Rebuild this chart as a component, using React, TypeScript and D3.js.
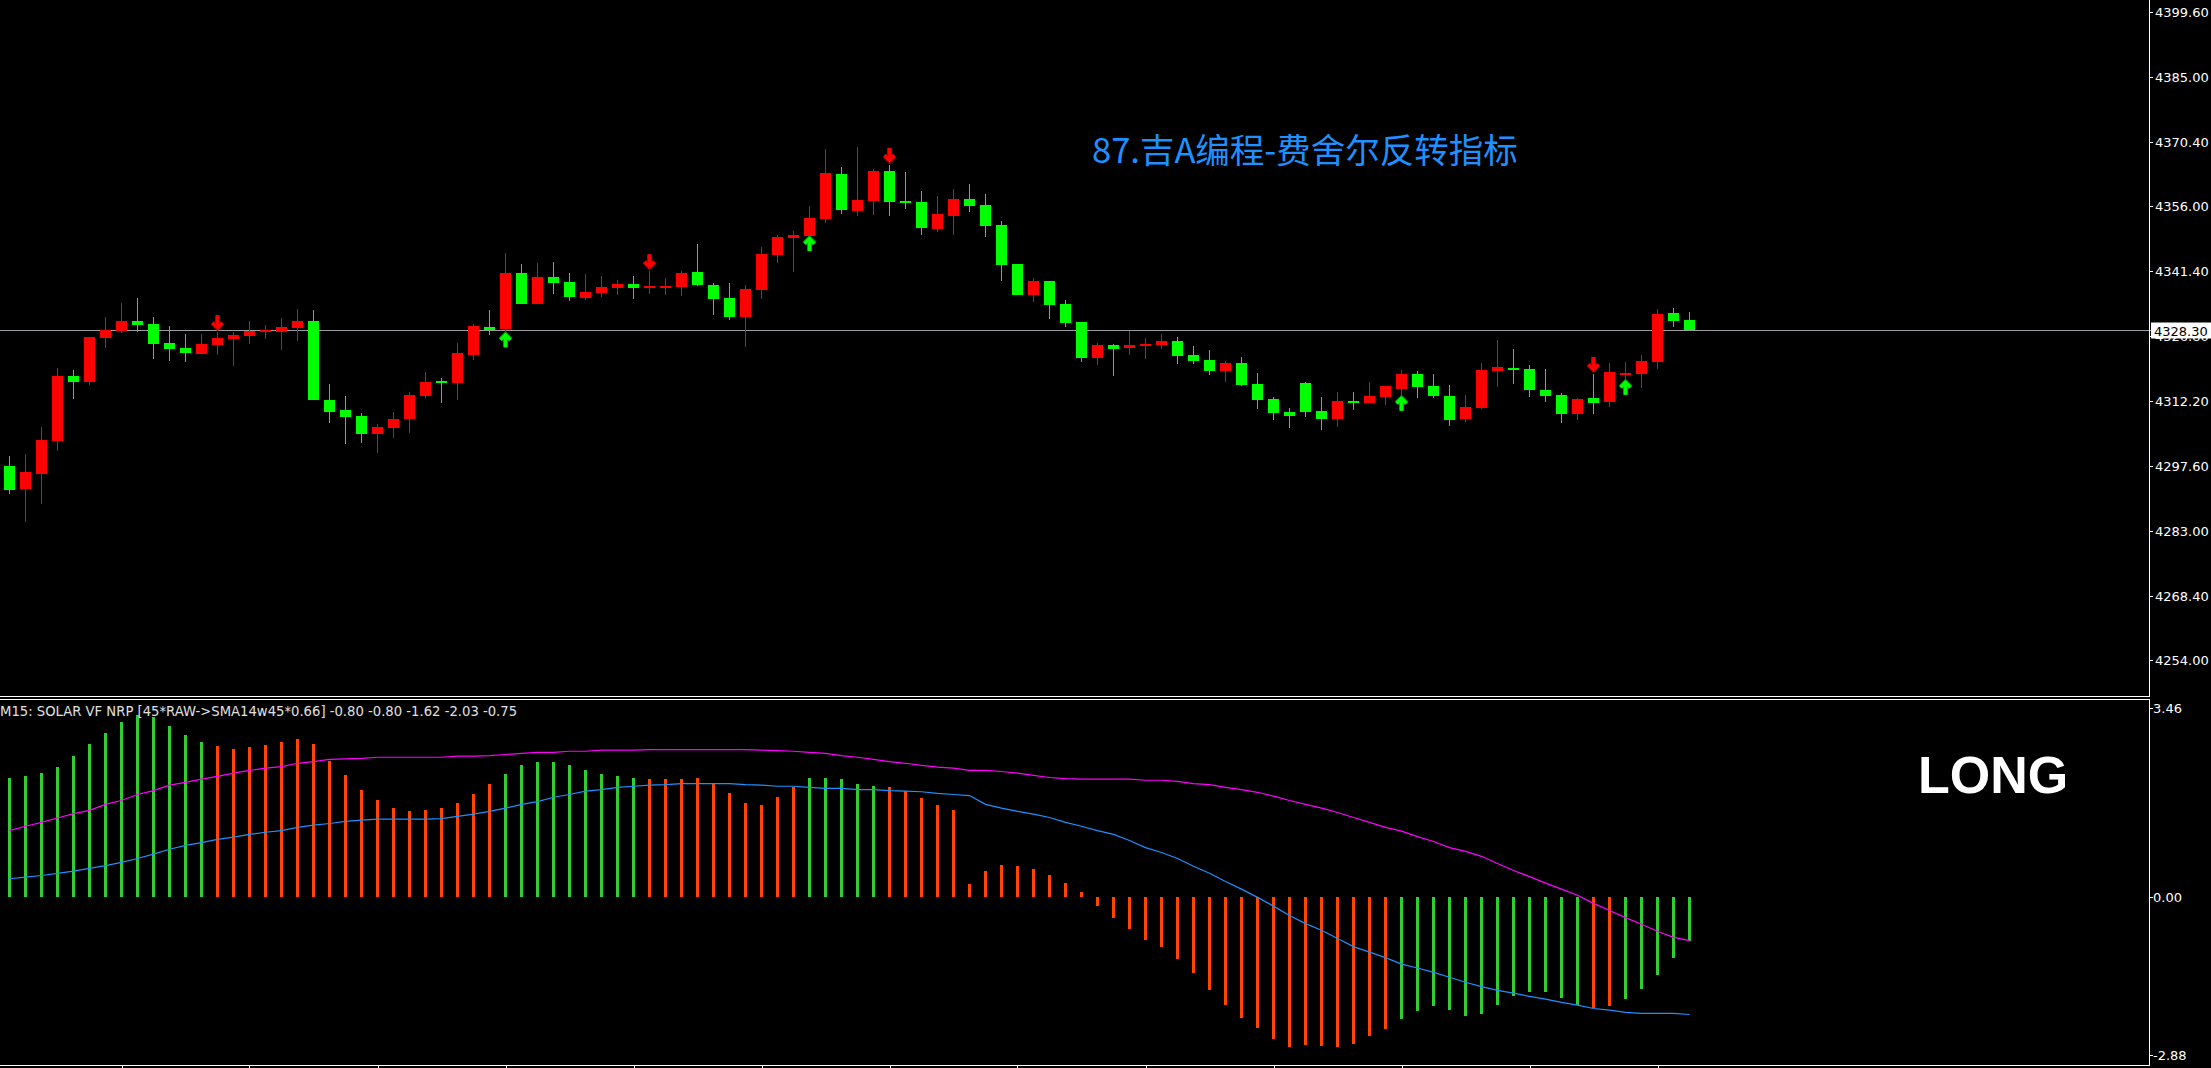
import React from "react";
import * as d3 from "d3";

// ---------- Candles (M15) ----------
const OPEN = [
  4297.6, 4292.5, 4295.8, 4303.2, 4317.9, 4316.5, 4326.4, 4328.0, 4330.2, 4329.5,
  4325.3, 4324.1, 4322.8, 4324.8, 4326.2, 4326.8, 4327.7, 4327.7, 4328.6, 4330.2,
  4312.5, 4310.2, 4308.9, 4304.8, 4306.2, 4308.2, 4313.4, 4316.7, 4316.3, 4322.6,
  4328.9, 4328.4, 4341.0, 4334.0, 4340.1, 4339.0, 4335.4, 4336.5, 4337.6, 4338.5,
  4337.6, 4337.9, 4337.9, 4341.2, 4338.3, 4335.4, 4331.1, 4337.2, 4345.0, 4348.9,
  4349.3, 4353.1, 4363.2, 4354.9, 4357.2, 4363.9, 4357.2, 4356.9, 4350.9, 4353.8,
  4357.6, 4356.3, 4351.8, 4343.0, 4336.0, 4339.2, 4334.0, 4330.0, 4321.9, 4324.8,
  4324.1, 4324.6, 4324.8, 4325.7, 4322.6, 4321.4, 4319.0, 4320.8, 4316.1, 4312.7,
  4309.8, 4316.3, 4310.0, 4308.2, 4312.2, 4311.8, 4313.1, 4314.9, 4318.3, 4315.6,
  4313.4, 4308.2, 4310.7, 4319.0, 4319.6, 4319.4, 4314.7, 4313.6, 4309.3, 4312.9,
  4312.0, 4318.3, 4318.3, 4321.0, 4332.0, 4330.4,
];
const HIGH = [
  4299.9, 4300.3, 4306.4, 4319.6, 4319.2, 4326.6, 4331.1, 4334.3, 4335.4, 4331.1,
  4329.1, 4327.3, 4327.3, 4327.7, 4327.7, 4330.2, 4329.3, 4330.9, 4332.9, 4332.7,
  4316.1, 4313.4, 4309.5, 4307.1, 4309.8, 4314.3, 4318.7, 4317.4, 4325.3, 4329.5,
  4332.7, 4345.5, 4343.0, 4343.2, 4343.5, 4341.0, 4340.8, 4340.3, 4339.4, 4340.3,
  4341.4, 4339.8, 4341.4, 4347.5, 4338.8, 4338.8, 4338.3, 4346.8, 4349.5, 4350.4,
  4356.1, 4368.9, 4364.8, 4369.3, 4364.4, 4365.3, 4363.7, 4359.4, 4358.3, 4359.9,
  4361.0, 4358.7, 4352.7, 4343.0, 4339.8, 4339.2, 4334.9, 4330.0, 4325.3, 4325.0,
  4328.0, 4326.4, 4327.3, 4326.6, 4324.6, 4323.7, 4321.2, 4322.1, 4318.5, 4313.1,
  4310.7, 4316.5, 4313.1, 4314.3, 4314.3, 4316.5, 4315.6, 4319.2, 4319.0, 4318.3,
  4315.8, 4313.6, 4320.8, 4325.9, 4323.9, 4320.3, 4319.4, 4314.0, 4312.9, 4318.3,
  4320.8, 4321.0, 4322.6, 4332.9, 4333.1, 4332.2,
];
const LOW = [
  4291.3, 4285.1, 4289.1, 4301.0, 4312.7, 4315.8, 4324.1, 4327.5, 4327.7, 4321.7,
  4321.2, 4321.0, 4322.8, 4322.6, 4320.1, 4325.0, 4326.2, 4323.7, 4325.7, 4312.5,
  4307.3, 4302.6, 4302.8, 4300.5, 4303.9, 4305.0, 4312.9, 4311.8, 4312.5, 4321.4,
  4327.1, 4327.7, 4334.0, 4334.0, 4336.3, 4334.7, 4334.9, 4335.6, 4336.0, 4335.2,
  4336.3, 4336.0, 4335.8, 4338.1, 4331.6, 4330.4, 4324.4, 4335.2, 4343.2, 4341.2,
  4349.3, 4352.2, 4354.3, 4353.8, 4354.0, 4353.8, 4355.4, 4349.5, 4350.2, 4349.5,
  4354.7, 4349.1, 4339.2, 4336.0, 4334.5, 4330.7, 4328.9, 4321.0, 4320.3, 4317.9,
  4322.6, 4321.7, 4323.9, 4320.5, 4320.5, 4318.1, 4316.5, 4315.6, 4310.4, 4307.9,
  4306.2, 4308.6, 4305.7, 4306.4, 4310.2, 4311.8, 4311.3, 4313.4, 4312.9, 4312.9,
  4306.6, 4307.5, 4310.4, 4315.4, 4316.1, 4313.1, 4312.0, 4307.3, 4307.9, 4309.3,
  4310.9, 4317.0, 4315.2, 4319.4, 4328.9, 4328.0,
];
const CLOSE = [
  4292.2, 4296.3, 4303.5, 4317.9, 4316.5, 4326.6, 4328.3, 4330.2, 4329.3, 4325.0,
  4323.9, 4323.0, 4325.0, 4326.4, 4327.1, 4328.0, 4328.3, 4328.9, 4330.2, 4312.5,
  4309.8, 4308.6, 4304.8, 4306.4, 4308.2, 4313.6, 4316.5, 4316.3, 4323.0, 4329.1,
  4328.3, 4341.0, 4334.0, 4340.1, 4338.8, 4335.6, 4336.7, 4337.9, 4338.5, 4337.6,
  4338.1, 4338.1, 4341.0, 4338.3, 4335.2, 4331.1, 4337.4, 4345.3, 4349.1, 4349.5,
  4353.4, 4363.5, 4355.2, 4357.4, 4363.9, 4356.9, 4356.7, 4351.1, 4354.3, 4357.6,
  4356.0, 4351.6, 4342.8, 4336.0, 4339.2, 4333.8, 4329.8, 4321.9, 4324.8, 4323.9,
  4324.8, 4325.0, 4325.7, 4322.3, 4321.2, 4319.0, 4320.8, 4315.8, 4312.5, 4309.5,
  4308.9, 4309.8, 4308.2, 4312.2, 4311.8, 4313.4, 4315.6, 4318.3, 4315.4, 4313.4,
  4307.9, 4310.9, 4319.2, 4319.9, 4319.2, 4314.7, 4313.4, 4309.3, 4312.7, 4311.8,
  4318.7, 4318.5, 4321.2, 4331.8, 4330.2, 4328.3,
];

// Fisher reversal signals (bar indices)
const DOWN_SIGNALS = [13, 40, 55, 99];
const UP_SIGNALS = [31, 50, 87, 101];

// ---------- Indicator (SOLAR VF NRP) ----------
const HIST = [
  2.19, 2.21, 2.28, 2.39, 2.59, 2.80, 3.01, 3.20, 3.34, 3.29,
  3.14, 2.96, 2.83, 2.76, 2.72, 2.74, 2.78, 2.83, 2.90, 2.81,
  2.50, 2.23, 1.97, 1.77, 1.64, 1.57, 1.59, 1.64, 1.72, 1.88,
  2.08, 2.25, 2.41, 2.47, 2.48, 2.41, 2.32, 2.25, 2.21, 2.19,
  2.17, 2.16, 2.16, 2.19, 2.08, 1.90, 1.72, 1.68, 1.83, 2.01,
  2.19, 2.19, 2.16, 2.08, 2.03, 2.01, 1.95, 1.81, 1.68, 1.59,
  0.24, 0.48, 0.60, 0.58, 0.51, 0.40, 0.27, 0.09, -0.15, -0.37,
  -0.58, -0.77, -0.91, -1.13, -1.39, -1.70, -1.97, -2.21, -2.39, -2.58,
  -2.74, -2.70, -2.72, -2.74, -2.67, -2.54, -2.41, -2.23, -2.08, -1.99,
  -2.05, -2.16, -2.14, -1.97, -1.81, -1.72, -1.72, -1.83, -1.97, -2.03,
  -1.99, -1.85, -1.68, -1.41, -1.11, -0.80,
];
// 1 = green state, 0 = orange state
const HIST_STATE = [
  1, 1, 1, 1, 1, 1, 1, 1, 1, 1, 1, 1, 1,
  0, 0, 0, 0, 0, 0, 0, 0, 0, 0, 0, 0, 0, 0, 0, 0, 0, 0,
  1, 1, 1, 1, 1, 1, 1, 1, 1,
  0, 0, 0, 0, 0, 0, 0, 0, 0, 0,
  1, 1, 1, 1, 1,
  0, 0, 0, 0, 0, 0, 0, 0, 0, 0, 0, 0, 0, 0, 0, 0, 0, 0, 0, 0, 0, 0, 0, 0, 0, 0, 0, 0, 0, 0, 0, 0,
  1, 1, 1, 1, 1, 1, 1, 1, 1, 1, 1, 1,
  0, 0,
  1, 1, 1, 1, 1,
];
const SIGNAL_LINE = [
  1.22, 1.30, 1.37, 1.45, 1.53, 1.59, 1.70, 1.77, 1.88, 1.95,
  2.05, 2.10, 2.16, 2.21, 2.27, 2.32, 2.36, 2.39, 2.45, 2.48,
  2.52, 2.53, 2.54, 2.56, 2.56, 2.56, 2.56, 2.56, 2.58, 2.58,
  2.59, 2.61, 2.63, 2.65, 2.65, 2.67, 2.67, 2.69, 2.69, 2.69,
  2.70, 2.70, 2.70, 2.70, 2.70, 2.70, 2.70, 2.69, 2.68, 2.67,
  2.65, 2.63, 2.59, 2.56, 2.52, 2.48, 2.45, 2.41, 2.38, 2.36,
  2.32, 2.32, 2.30, 2.27, 2.23, 2.19, 2.17, 2.16, 2.16, 2.16,
  2.16, 2.14, 2.14, 2.12, 2.08, 2.06, 2.01, 1.97, 1.92, 1.85,
  1.77, 1.70, 1.63, 1.55, 1.46, 1.37, 1.28, 1.21, 1.11, 1.02,
  0.91, 0.84, 0.75, 0.62, 0.49, 0.38, 0.26, 0.15, 0.04, -0.11,
  -0.24, -0.37, -0.49, -0.62, -0.73, -0.79,
];
const SMA_LINE = [
  0.34, 0.37, 0.40, 0.44, 0.48, 0.53, 0.58, 0.64, 0.71, 0.79,
  0.88, 0.95, 1.00, 1.06, 1.10, 1.15, 1.19, 1.22, 1.28, 1.32,
  1.35, 1.39, 1.41, 1.43, 1.43, 1.43, 1.43, 1.44, 1.48, 1.52,
  1.57, 1.63, 1.70, 1.75, 1.83, 1.88, 1.94, 1.97, 2.01, 2.03,
  2.05, 2.06, 2.08, 2.08, 2.08, 2.08, 2.06, 2.05, 2.03, 2.03,
  2.01, 1.99, 1.99, 1.97, 1.97, 1.95, 1.94, 1.93, 1.90, 1.88,
  1.86, 1.70, 1.63, 1.57, 1.52, 1.46, 1.37, 1.30, 1.22, 1.15,
  1.04, 0.91, 0.82, 0.71, 0.57, 0.44, 0.29, 0.15, 0.00, -0.16,
  -0.33, -0.48, -0.60, -0.75, -0.90, -1.00, -1.10, -1.22, -1.29, -1.37,
  -1.46, -1.55, -1.63, -1.70, -1.75, -1.81, -1.86, -1.92, -1.97, -2.03,
  -2.06, -2.10, -2.12, -2.12, -2.12, -2.14,
];

// ---------- Axis labels ----------
const PRICE_TICKS = [4399.6, 4385.0, 4370.4, 4356.0, 4341.4, 4326.8, 4312.2, 4297.6, 4283.0, 4268.4, 4254.0];
const IND_TICKS = [3.46, 0.0, -2.88];
const TIME_TICK_BARS = [7, 15, 23, 31, 39, 47, 55, 63, 71, 79, 87, 95, 103];
const LEGEND_PREFIX = "M15: SOLAR VF NRP [45*RAW->SMA14w45*0.66]";
const LEGEND_VALUES = [-0.8, -0.8, -1.62, -2.03, -0.75];
const TITLE = "87.吉A编程-费舍尔反转指标";
const STATUS = "LONG";

const W = 2211;
const H = 1068;
const AXIS_X = 2149;

const RED = "#FF0000";
const LIME = "#00FF00";
const HIST_GREEN = "#32CD32";
const HIST_ORANGE = "#FF4500";

export default function App() {
  const n = OPEN.length;
  const x = d3.scaleLinear().domain([0, n - 1]).range([9.5, 9.5 + 16 * (n - 1)]);
  const yP = d3.scaleLinear().domain([4254.0, 4399.6]).range([660.1, 12.3]);
  const yI = d3.scaleLinear().domain([-2.88, 3.46]).range([1055, 708]);

  const lineGen = d3
    .line<number>()
    .x((_, i) => x(i))
    .y((d) => yI(d));

  const lastClose = CLOSE[n - 1];
  const lastY = Math.round(yP(lastClose)) + 0.5;

  const axisFont = "'DejaVu Sans', Verdana, sans-serif";

  const downArrow = (cx: number, tip: number) =>
    `M${cx},${tip - 14} L${cx},${tip - 2} M${cx - 5},${tip - 6.5} L${cx},${tip - 1.5} L${cx + 5},${tip - 6.5}`;
  const upArrow = (cx: number, tip: number) =>
    `M${cx},${tip + 14} L${cx},${tip + 2} M${cx - 5},${tip + 6.5} L${cx},${tip + 1.5} L${cx + 5},${tip + 6.5}`;

  return (
    <svg
      width={W}
      height={H}
      style={{ position: "fixed", left: 0, top: 0, display: "block", background: "#000" }}
    >
      <rect x={0} y={0} width={W} height={H} fill="#000" />

      {/* current price line */}
      <line x1={0} x2={AXIS_X + 2} y1={lastY} y2={lastY} stroke="#9a9ea4" strokeWidth={1} shapeRendering="crispEdges" />

      {/* candles */}
      <g shapeRendering="crispEdges">
        {OPEN.map((o, i) => {
          const c = CLOSE[i];
          const up = c >= o;
          const col = up ? RED : LIME;
          const cx = x(i);
          const top = yP(Math.max(o, c));
          const bot = yP(Math.min(o, c));
          return (
            <g key={i}>
              <line x1={cx} x2={cx} y1={yP(HIGH[i])} y2={yP(LOW[i])} stroke={col} strokeWidth={1} />
              <rect x={cx - 5.5} y={top} width={11} height={Math.max(2, bot - top)} fill={col} />
            </g>
          );
        })}
      </g>

      {/* signal arrows */}
      {DOWN_SIGNALS.map((i) => (
        <g key={"d" + i}>
          <path d={downArrow(x(i), yP(HIGH[i]) - 3)} stroke="#B00000" strokeWidth={5} fill="none" />
          <path d={downArrow(x(i), yP(HIGH[i]) - 3)} stroke={RED} strokeWidth={3} fill="none" />
        </g>
      ))}
      {UP_SIGNALS.map((i) => (
        <g key={"u" + i}>
          <path d={upArrow(x(i), yP(LOW[i]) + 1)} stroke="#00A000" strokeWidth={5} fill="none" />
          <path d={upArrow(x(i), yP(LOW[i]) + 1)} stroke={LIME} strokeWidth={3} fill="none" />
        </g>
      ))}

      {/* title */}
      <text x={1092} y={163} fill="#1E90FF" fontSize={34.5} fontFamily="'Noto Sans CJK SC', 'Noto Sans', sans-serif">
        {TITLE}
      </text>

      {/* price axis */}
      <line x1={AXIS_X + 0.5} x2={AXIS_X + 0.5} y1={0} y2={696} stroke="#fff" strokeWidth={1} />
      {PRICE_TICKS.map((p) => (
        <g key={p}>
          <line x1={AXIS_X} x2={AXIS_X + 4} y1={Math.round(yP(p)) + 0.5} y2={Math.round(yP(p)) + 0.5} stroke="#fff" />
          <text x={2155} y={yP(p) + 5} fill="#fff" fontSize={13} fontFamily={axisFont}>
            {p.toFixed(2)}
          </text>
        </g>
      ))}
      <rect x={2151} y={lastY - 8} width={60} height={16} fill="#fff" />
      <text x={2154} y={lastY + 5} fill="#000" fontSize={13} fontFamily={axisFont}>
        {lastClose.toFixed(2)}
      </text>

      {/* panel separator */}
      <line x1={0} x2={AXIS_X + 1} y1={696.5} y2={696.5} stroke="#fff" />
      <line x1={0} x2={AXIS_X + 1} y1={699.5} y2={699.5} stroke="#fff" />

      {/* histogram */}
      <g shapeRendering="crispEdges">
        {HIST.map((v, i) => (
          <line
            key={i}
            x1={x(i)}
            x2={x(i)}
            y1={yI(0)}
            y2={yI(v)}
            stroke={HIST_STATE[i] ? HIST_GREEN : HIST_ORANGE}
            strokeWidth={3}
          />
        ))}
      </g>

      {/* lines */}
      <path d={lineGen(SIGNAL_LINE) || ""} fill="none" stroke="#FF00FF" strokeWidth={1.2} />
      <path d={lineGen(SMA_LINE) || ""} fill="none" stroke="#1E90FF" strokeWidth={1.2} />

      {/* indicator legend */}
      <text x={0} y={716} fill="#E0E0E0" fontSize={13.2} fontFamily={axisFont}>
        {LEGEND_PREFIX + " " + LEGEND_VALUES.map((v) => v.toFixed(2)).join(" ")}
      </text>

      <text x={1918} y={793} fill="#fff" fontSize={52} fontWeight="bold" fontFamily="'Liberation Sans', Arial, sans-serif">
        {STATUS}
      </text>

      {/* indicator axis */}
      <line x1={AXIS_X + 0.5} x2={AXIS_X + 0.5} y1={699} y2={1065} stroke="#fff" />
      {IND_TICKS.map((v) => (
        <g key={v}>
          <line x1={AXIS_X} x2={AXIS_X + 4} y1={Math.round(yI(v)) + 0.5} y2={Math.round(yI(v)) + 0.5} stroke="#fff" />
          <text x={2153} y={yI(v) + 5} fill="#fff" fontSize={13} fontFamily={axisFont}>
            {v.toFixed(2)}
          </text>
        </g>
      ))}

      {/* bottom border & time ticks */}
      <line x1={0} x2={AXIS_X + 1} y1={1065.5} y2={1065.5} stroke="#fff" />
      {TIME_TICK_BARS.map((b) => (
        <line key={b} x1={Math.round(x(b)) + 0.5} x2={Math.round(x(b)) + 0.5} y1={1065} y2={1068} stroke="#fff" />
      ))}
    </svg>
  );
}
